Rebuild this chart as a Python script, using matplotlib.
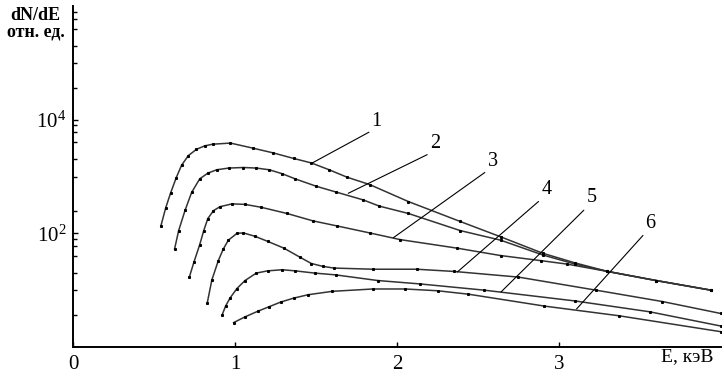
import matplotlib
matplotlib.use("Agg")
import matplotlib.pyplot as plt
from matplotlib.ticker import FixedLocator, NullFormatter

plt.rcParams["font.family"] = ["Liberation Serif", "DejaVu Serif"]
plt.rcParams["mathtext.fontset"] = "custom"
plt.rcParams["mathtext.rm"] = "Liberation Serif"

# energy (keV) and dN/dE (rel. units), curves 1..6
e1 = [0.54, 0.57, 0.60, 0.635, 0.668, 0.71, 0.76, 0.81, 0.86, 0.97, 1.11, 1.23,
      1.36, 1.47, 1.58, 1.69, 1.83, 2.07, 2.39, 2.64, 2.90, 3.10, 3.30, 3.60, 3.94]
y1 = [135, 282, 513, 955, 1585, 2344, 3020, 3467, 3715, 3890, 3162, 2630,
      2089, 1738, 1318, 977, 724, 363, 162, 87, 44.7, 30.2, 21.4, 14.8, 10.0]

e2 = [0.625, 0.65, 0.69, 0.73, 0.78, 0.83, 0.885, 0.96, 1.05, 1.13, 1.21, 1.29,
      1.37, 1.50, 1.62, 1.79, 1.89, 2.07, 2.39, 2.64, 2.90, 3.10, 3.30, 3.60, 3.94]
y2 = [53.7, 112, 257, 525, 912, 1148, 1318, 1413, 1445, 1413, 1318, 1122,
      912, 676, 537, 389, 302, 224, 112, 75.9, 41.7, 28.8, 21.4, 14.8, 10.0]

e3 = [0.716, 0.745, 0.78, 0.805, 0.83, 0.865, 0.905, 0.98, 1.06, 1.16, 1.32,
      1.48, 1.63, 1.83, 2.02, 2.37, 2.64, 2.89, 3.05, 3.30, 3.60, 3.94]
y3 = [17.0, 31.6, 63.1, 112, 182, 251, 295, 331, 324, 288, 224,
      166, 135, 102, 77.6, 55.0, 40.7, 33.1, 28.8, 21.4, 14.8, 10.0]

e4 = [0.827, 0.855, 0.895, 0.925, 0.957, 1.01, 1.05, 1.12, 1.20, 1.30, 1.40,
      1.47, 1.54, 1.61, 1.85, 2.12, 2.35, 2.75, 3.23, 3.64, 4.00]
y4 = [6.03, 15.1, 33.1, 52.5, 75.9, 100, 102, 89.1, 72.4, 55.0, 38.0,
      29.5, 26.3, 24.5, 23.4, 23.4, 21.4, 17.0, 10.0, 6.31, 3.89]

e5 = [0.918, 0.94, 0.967, 1.01, 1.06, 1.13, 1.20, 1.29, 1.37, 1.49, 1.62,
      1.88, 2.14, 2.54, 3.10, 3.56, 4.00]
y5 = [3.63, 5.25, 7.24, 10.7, 14.8, 20.0, 21.9, 22.9, 21.9, 20.0, 18.6,
      14.8, 12.9, 10.0, 6.46, 4.17, 2.34]

e6 = [0.99, 1.06, 1.14, 1.21, 1.28, 1.36, 1.45, 1.60, 1.85, 2.05, 2.25,
      2.44, 2.91, 3.37, 4.00]
y6 = [2.69, 3.39, 4.27, 5.13, 6.17, 7.24, 8.32, 9.55, 10.5, 10.5, 9.77,
      8.51, 5.25, 3.55, 1.86]

curve_labels = ["1", "2", "3", "4", "5", "6"]
# where each leader line touches its curve, and where it starts near the number
leader_e = [1.472, 1.698, 1.977, 2.372, 2.642, 3.109]
leader_y = [1714, 508, 84, 20.9, 9.3, 4.67]
label_e = [1.843, 2.203, 2.559, 2.891, 3.171, 3.535]
label_y = [6427, 2570, 1279, 402, 286, 103]

x_ticks = [0, 1, 2, 3]
y_major = [1e2, 1e4]
y_minor = [3.6, 10, 20, 40, 60, 80, 250, 1e3, 2000, 4000, 6000, 8000,
           3.7e4, 1e5, 2e5, 4e5, 6e5, 8e5]

fig = plt.figure(figsize=(7.24, 3.77), dpi=100)
ax = fig.add_axes([0.1015, 0.0796, 0.894, 0.904])

curves = [(e1, y1), (e2, y2), (e3, y3), (e4, y4), (e5, y5), (e6, y6)]
for e, y in curves:
    ax.plot(e, y, color="#333333", lw=1.1, zorder=3)
    ax.plot(e, y, ls="none", marker="s", ms=1.2, color="black", zorder=4)

for lab, le, ly, te, ty in zip(curve_labels, leader_e, leader_y, label_e, label_y):
    ax.annotate(lab, xy=(le, ly), xytext=(te, ty), textcoords="data",
                ha="left", va="bottom", fontsize=14.5,
                arrowprops=dict(arrowstyle="-", color="black", lw=0.8,
                                shrinkA=0, shrinkB=0, relpos=(0, 0)))

ax.set_yscale("log")
ax.set_xlim(0, 4)
ax.set_ylim(1, 1e6)

ax.xaxis.set_major_locator(FixedLocator(x_ticks))
ax.set_xticklabels([str(t) for t in x_ticks])
ax.yaxis.set_major_locator(FixedLocator(y_major))
ax.set_yticklabels([r"$\mathregular{10^2}$", r"$\mathregular{10^4}$"])
ax.yaxis.set_minor_locator(FixedLocator(y_minor))
ax.yaxis.set_minor_formatter(NullFormatter())

ax.tick_params(axis="both", which="both", direction="in", color="black")
ax.tick_params(axis="x", which="major", length=3.5, width=1, labelsize=15, pad=6)
ax.tick_params(axis="y", which="major", length=3.5, width=1, labelsize=15, pad=5)
ax.tick_params(axis="y", which="minor", length=3.2, width=1)
ax.tick_params(axis="x", which="minor", bottom=False)

for side in ["top", "right"]:
    ax.spines[side].set_visible(False)
for side in ["left", "bottom"]:
    ax.spines[side].set_linewidth(1.4)
    ax.spines[side].set_color("black")

ax.text(3.79, -0.028, "E, кэВ", transform=ax.get_xaxis_transform(),
        ha="center", va="center", fontsize=14)
fig.text(35 / 724, 1 - 15 / 377, "dN/dE", ha="center", va="center",
         fontsize=13, fontweight="bold")
fig.text(36 / 724, 1 - 32 / 377, "отн. ед.", ha="center", va="center",
         fontsize=13, fontweight="bold")

fig.savefig("out.png", dpi=100)
